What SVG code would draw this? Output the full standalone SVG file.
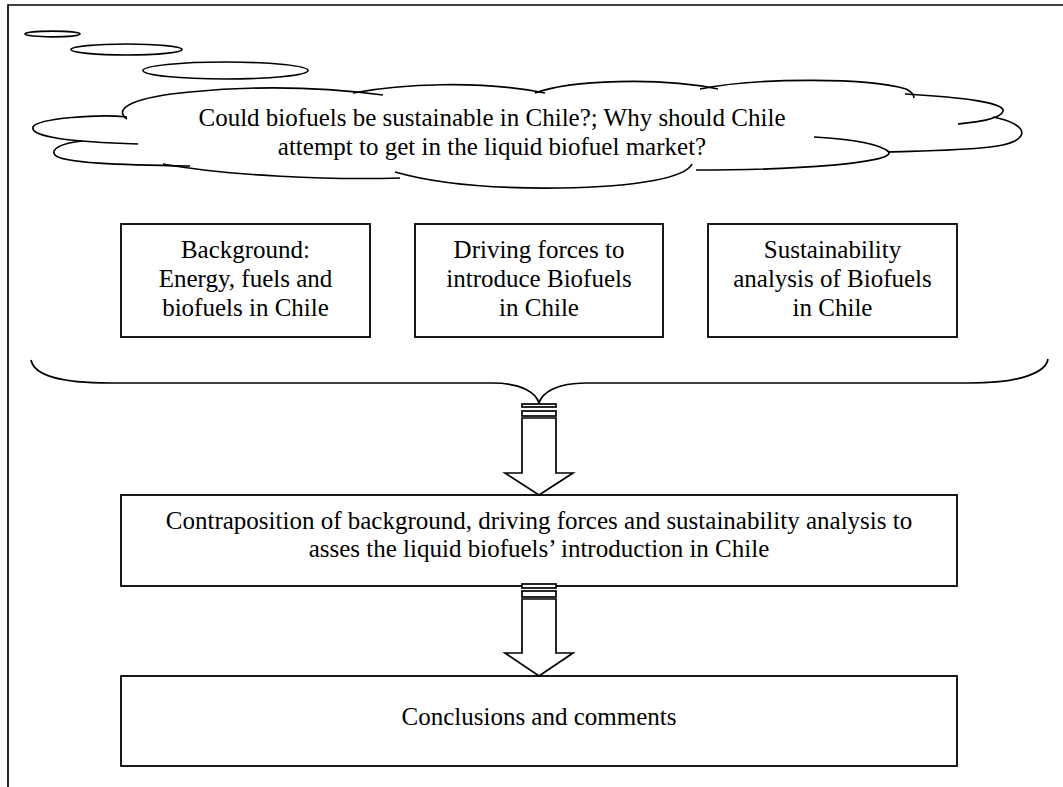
<svg xmlns="http://www.w3.org/2000/svg" width="1063" height="787" viewBox="0 0 1063 787">
  <style>
    .ln { fill: none; stroke: #000; stroke-width: 1.7; }
    .box { fill: #fff; stroke: #000; stroke-width: 1.8; }
    .arr { fill: #fff; stroke: #000; stroke-width: 1.7; stroke-linejoin: miter; }
    .t { font-family: "Liberation Serif", "Times New Roman", serif; font-size: 25px; fill: #000; text-anchor: middle; }
  </style>
  <rect x="0" y="0" width="1063" height="787" fill="#fff"/>

  <!-- page frame (left and top edges) -->
  <path class="ln" d="M8,787 V5 H1063" stroke="#222"/>

  <!-- thought bubble with question -->
  <g id="question">
    <ellipse class="ln" cx="52.5" cy="34" rx="27.5" ry="2.8"/>
    <ellipse class="ln" cx="126.5" cy="49.5" rx="55.5" ry="5.5"/>
    <ellipse class="ln" cx="225.5" cy="70.5" rx="82.5" ry="8.5"/>
    <!-- cloud lobes -->
    <path class="ln" d="M127,119 C112,108 135,97 190,92 C260,85 330,88 383,95"/>
    <path class="ln" d="M353,93 C400,84 480,80 545,93"/>
    <path class="ln" d="M535,93 C570,80 660,77 718,89"/>
    <path class="ln" d="M700,89 C760,77 870,78 906,89 C912,92 914,95 914,98"/>
    <path class="ln" d="M905,94 C960,97 1012,103 1002,113 C996,120 975,122 958,124"/>
    <path class="ln" d="M993,117 C1030,124 1034,142 990,147 C955,151 915,151 888,152"/>
    <path class="ln" d="M814,137 C850,139 880,144 889,152 C893,163 800,170 696,170"/>
    <path class="ln" d="M692,164 C686,177 640,187 560,188 C480,189 430,182 395,172"/>
    <path class="ln" d="M163,164 C230,176 330,180 400,178"/>
    <path class="ln" d="M127,117 C100,114 38,118 33,127 C30,137 70,142 138,144"/>
    <path class="ln" d="M82,141 C60,143 50,150 55,155 C62,163 120,165 190,166"/>
    <text class="t" x="492" y="126">Could biofuels be sustainable in Chile?; Why should Chile</text>
    <text class="t" x="492" y="155">attempt to get in the liquid biofuel market?</text>
  </g>

  <g id="background">
    <rect class="box" x="121" y="224" width="249" height="113"/>
    <text class="t" x="245.5" y="258">Background:</text>
    <text class="t" x="245.5" y="287">Energy, fuels and</text>
    <text class="t" x="245.5" y="316">biofuels in Chile</text>
  </g>

  <g id="driving-forces">
    <rect class="box" x="415" y="224" width="248" height="113"/>
    <text class="t" x="539" y="258">Driving forces to</text>
    <text class="t" x="539" y="287">introduce Biofuels</text>
    <text class="t" x="539" y="316">in Chile</text>
  </g>

  <g id="sustainability">
    <rect class="box" x="708" y="224" width="249" height="113"/>
    <text class="t" x="832.5" y="258">Sustainability</text>
    <text class="t" x="832.5" y="287">analysis of Biofuels</text>
    <text class="t" x="832.5" y="316">in Chile</text>
  </g>

  <g id="contraposition">
    <rect class="box" x="121" y="495" width="836" height="91"/>
    <text class="t" x="539" y="529">Contraposition of background, driving forces and sustainability analysis to</text>
    <text class="t" x="539" y="557">asses the liquid biofuels’ introduction in Chile</text>
  </g>

  <g id="conclusions">
    <rect class="box" x="121" y="676" width="836" height="90"/>
    <text class="t" x="539" y="725">Conclusions and comments</text>
  </g>

  <g id="connectors">
    <!-- brace gathering the three analyses -->
    <path class="ln" d="M31,360 C34,375 60,383 110,383 L492,383 C522,383 536,393 539,403 C542,393 556,383 586,383 L970,383 C1022,383 1046,372 1048,359"/>
    <!-- striped block arrow 1 -->
    <rect class="arr" x="522" y="404" width="34" height="3"/>
    <rect class="arr" x="522" y="411" width="34" height="5"/>
    <path class="arr" d="M522,418 V473 H505 L539,495 L573,473 H556 V418 Z"/>
    <!-- striped block arrow 2 -->
    <rect class="arr" x="522" y="584" width="34" height="4"/>
    <rect class="arr" x="522" y="591" width="34" height="6"/>
    <path class="arr" d="M522,599 V653 H505 L539,676 L573,653 H556 V599 Z"/>
  </g>
</svg>
